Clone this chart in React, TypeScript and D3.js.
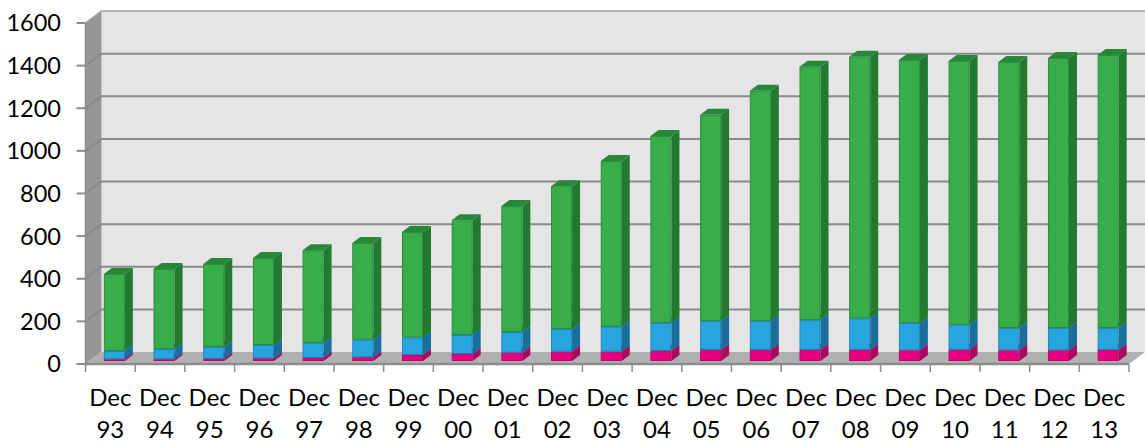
import * as React from 'react';
import * as d3 from 'd3';

const months = ['93', '94', '95', '96', '97', '98', '99', '00', '01', '02', '03', '04', '05', '06', '07', '08', '09', '10', '11', '12', '13'];
// values
const pinkValues = [8, 8, 10, 12, 14, 17, 28, 33, 39, 44, 44, 48, 52, 52, 52, 52, 50, 52, 50, 50, 52];
const blueValues = [39, 48, 56, 63, 71, 83, 82, 89, 97, 106, 117, 130, 135, 135, 140, 148, 128, 118, 105, 105, 103];
const greenValues = [361, 376, 389, 408, 435, 454, 495, 538, 591, 670, 777, 878, 968, 1081, 1189, 1228, 1234, 1238, 1248, 1267, 1281];
const yTicks = d3.range(0, 1601, 200);

const seriesKeys = ['pink', 'blue', 'green'];
const seriesColors: Record<string, { front: string; edge: string; side: string; top: string }> = {
    pink: { front: '#e6007e', edge: '#c4006c', side: '#a80a5f', top: '#c4006c' },
    blue: { front: '#27a5de', edge: '#1f86b8', side: '#1b6e9c', top: '#1f86b8' },
    green: { front: '#37ae4a', edge: '#2a8c3c', side: '#217a30', top: '#27883a' },
};

const width = 1145, height = 443;
const x0 = 85.5, x1 = 1129;
const wallDx = 16, wallDy = 12;
const barOffset = { dx: 4, dy: 3 }; // bars sit a little behind the front edge
const barDepth = { dx: 8, dy: 6 };

const rows = months.map((m, i) => ({
    month: m,
    pink: pinkValues[i],
    blue: blueValues[i],
    green: greenValues[i],
}));

const App: React.FC = () => {
    const xScale = d3.scaleBand<string>()
        .domain(months)
        .range([x0, x1])
        .paddingInner(0.577)
        .paddingOuter(0.2885);
    const yScale = d3.scaleLinear().domain([0, 1600]).range([364, 23]);
    const stacked = d3.stack<any>().keys(seriesKeys)(rows);
    const step = xScale.step();
    const tickX = d3.range(0, months.length + 1).map(i => x0 + i * step);
    const y0 = yScale(0), yTop = yScale(1600);

    const poly = (pts: number[][]) => pts.map(p => p.join(',')).join(' ');
    const font = 'Lato, "Open Sans", sans-serif';

    return (
        <svg width={width} height={height} style={{ position: 'absolute', left: 0, top: 0, display: 'block' }}>
            {/* walls and floor */}
            <rect x={x0 + wallDx} y={yTop - wallDy} width={width - x0 - wallDx} height={y0 - yTop} fill="#e5e5e5" />
            <polygon
                points={poly([[x0, yTop], [x0 + wallDx, yTop - wallDy], [x0 + wallDx, y0 - wallDy], [x0, y0]])}
                fill="#969696"
            />
            <polygon
                points={poly([[x0, y0], [x0 + wallDx, y0 - wallDy], [x1 + wallDx, y0 - wallDy], [x1, y0]])}
                fill="#b0b0b0"
            />

            {/* gridlines */}
            {yTicks.map(t => (
                <g key={t}>
                    {t > 0 && (
                        <polyline
                            points={poly([[x0, yScale(t)], [x0 + wallDx, yScale(t) - wallDy], [width, yScale(t) - wallDy]])}
                            fill="none"
                            stroke={t === 1600 ? '#a0a0a0' : '#8a8a8a'}
                            strokeWidth={t === 1600 ? 1.5 : 2}
                        />
                    )}
                    <line x1={x0 - 9} x2={x0} y1={yScale(t)} y2={yScale(t)} stroke="#8c8c8c" strokeWidth={2} />
                    <text
                        x={61}
                        y={yScale(t)}
                        dy="0.36em"
                        textAnchor="end"
                        fontFamily={font}
                        fontSize={23.5}
                        fill="#000"
                    >
                        {t}
                    </text>
                </g>
            ))}

            {/* axes */}
            <line x1={x0} x2={x0} y1={yTop} y2={y0} stroke="#8c8c8c" strokeWidth={1.5} />
            <line x1={x0} x2={x1} y1={y0} y2={y0} stroke="#8c8c8c" strokeWidth={2.5} />
            {tickX.map(x => (
                <line key={x} x1={x} x2={x} y1={y0} y2={y0 + 8} stroke="#8c8c8c" strokeWidth={1.5} />
            ))}

            {/* bars */}
            {months.map((m, i) => {
                const bw = xScale.bandwidth();
                const left = (xScale(m) as number) + barOffset.dx;
                const right = left + bw;
                return (
                    <g key={m}>
                        {stacked.map(layer => {
                            const c = seriesColors[layer.key];
                            const yb = yScale(layer[i][0]) - barOffset.dy;
                            const yt = yScale(layer[i][1]) - barOffset.dy;
                            return (
                                <g key={layer.key}>
                                    <polygon
                                        points={poly([[right, yb], [right + barDepth.dx, yb - barDepth.dy], [right + barDepth.dx, yt - barDepth.dy], [right, yt]])}
                                        fill={c.side}
                                    />
                                    <polygon
                                        points={poly([[left, yt], [left + barDepth.dx, yt - barDepth.dy], [right + barDepth.dx, yt - barDepth.dy], [right, yt]])}
                                        fill={c.top}
                                    />
                                    <rect
                                        x={left + 0.5}
                                        y={yt + 0.5}
                                        width={bw - 1}
                                        height={Math.max(yb - yt - 1, 0.5)}
                                        fill={c.front}
                                        stroke={c.edge}
                                        strokeWidth={1}
                                    />
                                </g>
                            );
                        })}
                        <text
                            x={(xScale(m) as number) + bw / 2}
                            y={406}
                            textAnchor="middle"
                            fontFamily={font}
                            fontSize={24}
                            fill="#000"
                        >
                            Dec
                        </text>
                        <text
                            x={(xScale(m) as number) + bw / 2}
                            y={438}
                            textAnchor="middle"
                            fontFamily={font}
                            fontSize={24}
                            fill="#000"
                        >
                            {m}
                        </text>
                    </g>
                );
            })}
        </svg>
    );
};

export default App;
